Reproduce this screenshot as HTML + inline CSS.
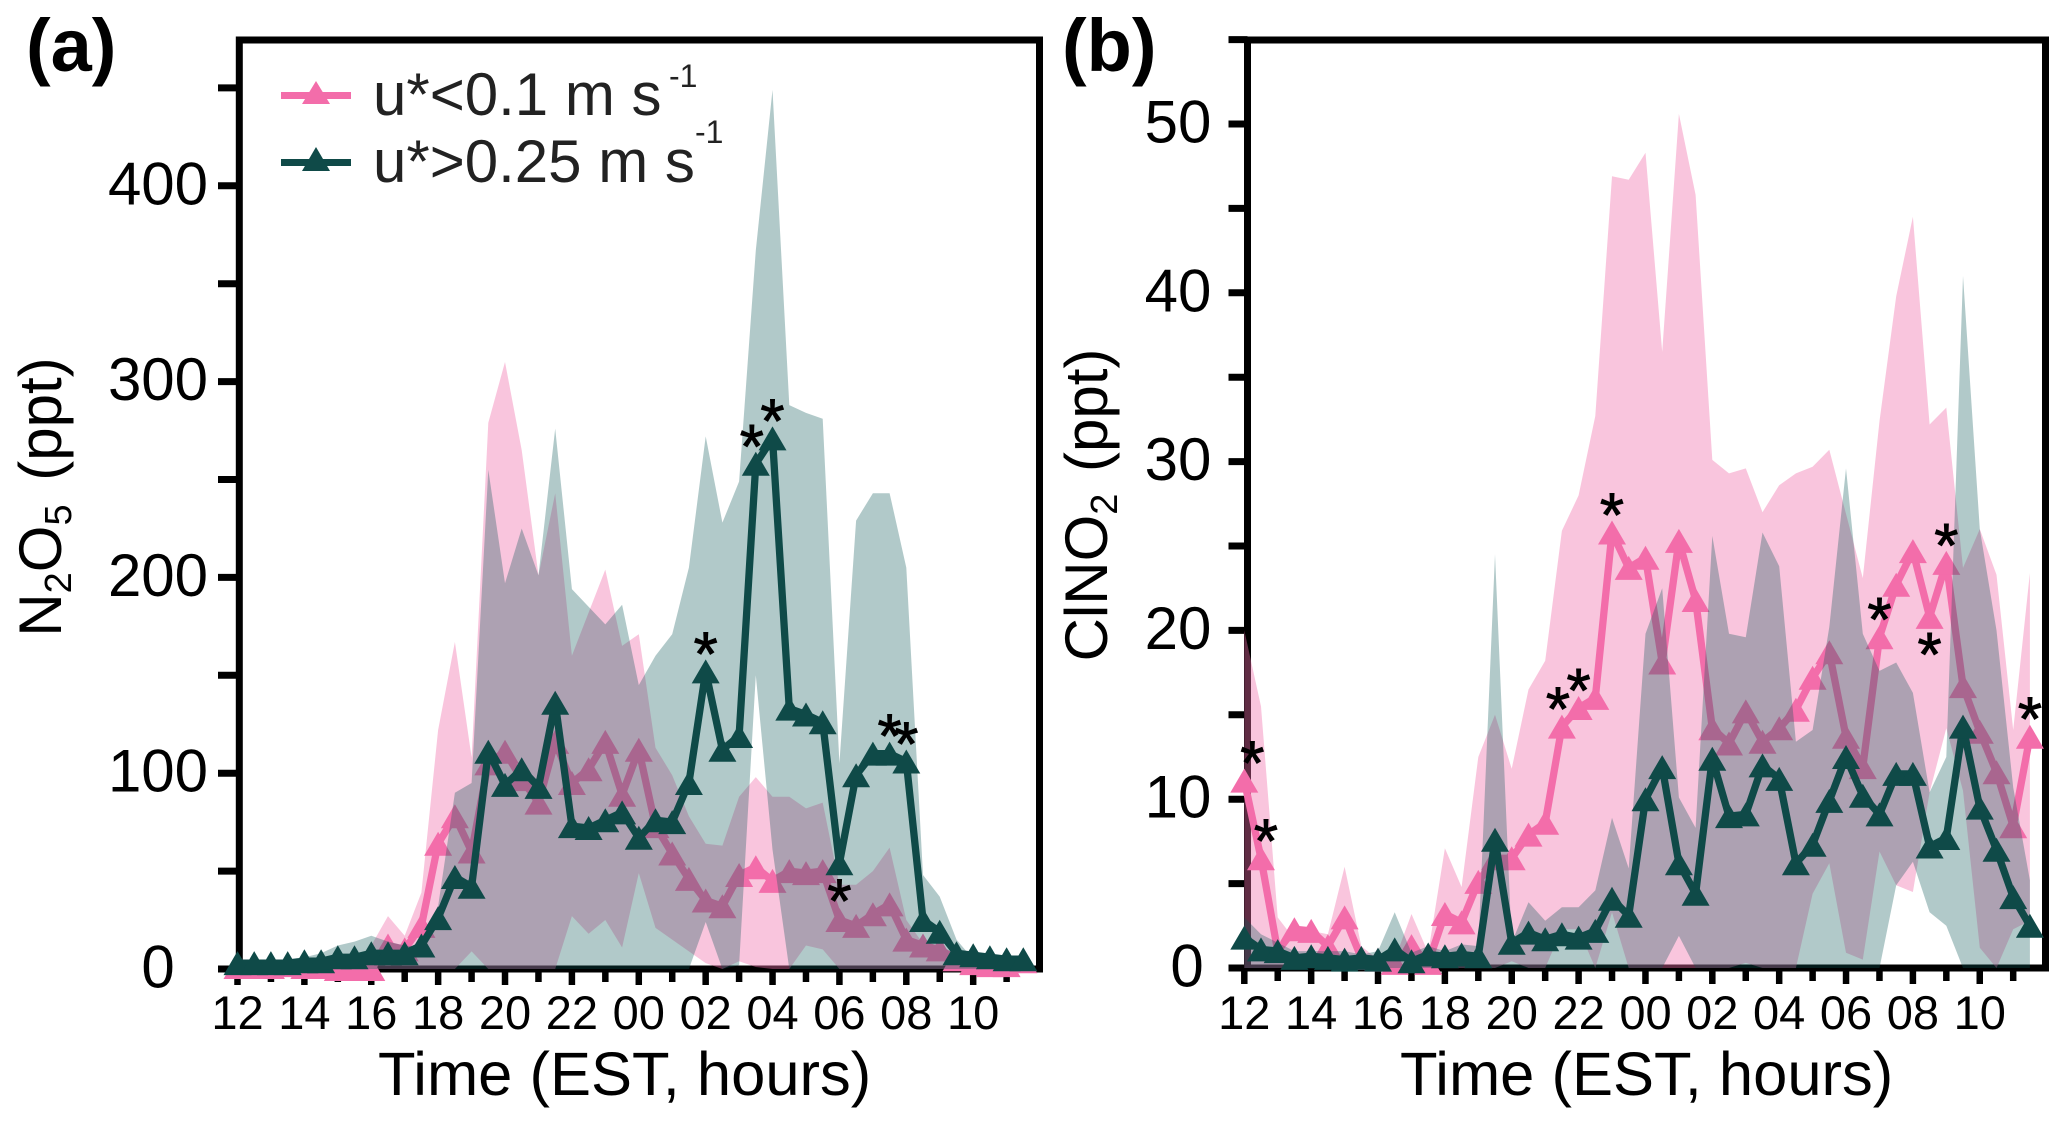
<!DOCTYPE html>
<html lang="en">
<head>
<meta charset="utf-8">
<title>N2O5 and ClNO2 diurnal profiles</title>
<style>
  html, body { margin: 0; padding: 0; background: #fff; }
  #figure { display: block; width: 2067px; height: 1125px; }
  text { font-family: "Liberation Sans", sans-serif; fill: #000; }
</style>
</head>
<body>
<svg id="figure" xmlns="http://www.w3.org/2000/svg" width="2067" height="1125" viewBox="0 0 2067 1125">
  <g id="panel-a"></g>
  <g id="panel-b"></g>

  <text x="26" y="71" font-size="74" font-weight="bold">(a)</text>
  <text x="1062" y="71" font-size="74" font-weight="bold">(b)</text>

  <text x="378" y="1095" font-size="61.5">Time (EST, hours)</text>
  <text x="1400" y="1095" font-size="61.5">Time (EST, hours)</text>

  <text transform="translate(61 497) rotate(-90)" text-anchor="middle" font-size="60">N<tspan font-size="38" dy="10">2</tspan><tspan dy="-10">O</tspan><tspan font-size="38" dy="10">5</tspan><tspan dy="-10" dx="7"> (ppt)</tspan></text>
  <text transform="translate(1107 505) rotate(-90)" text-anchor="middle" font-size="60">ClNO<tspan font-size="38" dy="10">2</tspan><tspan dy="-10" dx="5"> (ppt)</tspan></text>

  <g id="legend">
    <g>
      <rect x="281" y="92" width="70" height="7" fill="#f36daa"></rect>
      <polygon points="316,81 330,104 302,104" fill="#f36daa"></polygon>
      <text x="373" y="115" font-size="60" style="fill:#222">u*&lt;0.1 m s</text>
      <text x="669" y="87" font-size="32" style="fill:#222">-1</text>
    </g>
    <g>
      <rect x="281" y="159" width="70" height="7" fill="#0f4a48"></rect>
      <polygon points="316,147 330,171 302,171" fill="#0f4a48"></polygon>
      <text x="373" y="182" font-size="60" style="fill:#222">u*&gt;0.25 m s</text>
      <text x="695" y="143" font-size="32" style="fill:#222">-1</text>
    </g>
  </g>
</svg>

<script>
// ---------- Shared categories ----------
const hourTickLabels = ['12','14','16','18','20','22','00','02','04','06','08','10'];
const pointsPerHour = 2;
const hourTickCount = 24;

// ---------- Panel (a): N2O5 ----------
const aYTickLabels = [0, 100, 200, 300, 400];
const aYTicks = [0, 50, 100, 150, 200, 250, 300, 350, 400, 450];
const aLowMean = [1,1,1,2,1, 1,0,0,0,12, 10,22,64,78,60, 105,111,97,85,116, 95,102,116,89,112, 73,59,46,35,32, 48,52,45,50,49, 50,25,22,28,33, 15,12,10,5,3, 2,2,4];
const aLowUpper = [2,2,2,3,2, 2,1,1,12,27, 17,39,122,167,108, 279,310,265,201,243, 160,182,204,165,171, 113,99,78,64,63, 88,98,88,88,82, 85,43,43,50,62, 25,13,8,5,3, 3,3,5];
const aLowLower = [0,0,0,0,0, 0,0,0,0,0, 0,0,0,0,9, 0,0,0,0,0, 27,18,25,11,49, 21,15,9,3,0, 4,1,0,0,12, 10,0,0,0,0, 0,0,0,0,0, 0,0,0];
const aHighMean = [3,3,3,3,4, 4,6,6,8,8, 8,12,26,47,42, 111,94,102,93,136, 73,72,76,80,67, 76,75,95,152,112, 119,258,271,133,130, 126,54,99,110,110, 106,25,19,8,7, 6,5,5];
const aHighUpper = [2,3,4,5,6, 8,12,14,17,14, 12,11,32,90,95, 255,197,225,201,276, 194,185,176,186,145, 160,171,205,272,228, 249,367,449,288,284, 281,105,229,243,243, 205,48,37,15,5, 3,3,3];
const aHighLower = [0,0,0,0,0, 0,0,0,0,0, 0,0,0,0,0, 0,0,0,0,0, 0,0,0,0,0, 0,0,0,24,0, 2,150,61,0,0, 0,0,0,0,0, 0,0,0,0,0, 0,0,0];
const aHighSignificant = [28, 31, 32, 36, 39, 40];
const aHighBelow = [36];

// ---------- Panel (b): ClNO2 ----------
const bYTickLabels = [0, 10, 20, 30, 40, 50];
const bYTicks = [0, 5, 10, 15, 20, 25, 30, 35, 40, 45, 50, 55];
const bLowMean = [11.1,6.5,1,2.3,2.2, 1.3,3,0.6,0.5,0.3, 1.3,0.3,3.2,2.7,5.1, 6.5,6.5,7.9,8.6,14.3, 15.4,16,25.8,23.7,24.3, 18.1,25.3,21.8,14.2,13.3, 15.2,13.4,14.2,15.3,17.2, 18.7,13.7,11.9,19.6,22.7, 24.7,20.8,24,16.7,14, 11.6,8.4,13.7];
const bLowUpper = [20,15.5,3,1.7,2.2, 2,6,1.3,0.5,0.5, 3.2,0.9,7.1,4.8,12.5, 15,11.8,16.5,18.2,25.9, 28,32.7,46.9,46.7,48.3, 36.5,50.6,45.8,30.1,29.3, 29.6,27,28.6,29.3,29.7, 30.7,26.9,23.1,32.4,39.8, 44.5,32.2,33.2,23.7,26, 23.3,14.1,23.4];
const bLowLower = [0,0,0,0,0, 0,0,0,0,0, 0,0,0,0,0, 0,0.4,0,0,2.3, 2.3,0,3.3,0,0, 0,0,0,0,0, 0.3,0,0,0,4.4, 6.2,0.9,0.5,6.9,4.9, 4.5,10.4,14.2,10.5,1.2, 0,2.3,2.8];
const bHighMean = [1.8,1.1,1,0.6,0.7, 0.6,0.5,0.6,0.5,1.1, 0.4,0.8,0.7,0.8,0.7, 7.6,1.5,2.1,1.7,2, 1.8,2.2,4.1,3.1,10, 11.9,6.2,4.4,12.4,9, 9.1,12,11.2,6.2,7.3, 9.9,12.5,10.2,9.1,11.5, 11.5,7.2,7.7,14.3,9.5, 7,4.2,2.5];
const bHighUpper = [3,2,1.5,1,1, 1,1,0.8,1,3.3, 0.9,1.3,1,1.4,1.3, 24.5,1.5,3.9,2.8,3.6, 3.6,4.6,8.9,5.9,19.8, 22.5,10.1,8.3,25.6,19.8, 19.6,25.8,23.8,13.4,14.1, 20.2,29.6,19.8,17.6,18.1, 16.3,10.4,12.5,41,26, 20,10.7,5.2];
const bHighLower = [0,0,0,0,0, 0,0,0,0,0, 0,0,0,0,0, 0,0,0,0,0, 0,0,0,0,0, 0,1.9,0,0,0, 0,0,0,0,0, 0,0,0,0,4.9, 6.3,3.3,2.5,0,0, 0,0,0];
const bLowSignificant = [0, 1, 19, 20, 22, 38, 41, 42, 47];
const bLowBelow = [41];

const SVG_NS = 'http://www.w3.org/2000/svg';
const PINK = '#f36daa';
const DARK = '#0f4a48';

function make(tag, parent, attrs, text) {
  const el = document.createElementNS(SVG_NS, tag);
  for (const k in attrs) el.setAttribute(k, attrs[k]);
  if (text !== undefined) el.textContent = text;
  parent.appendChild(el);
  return el;
}

function drawBand(parent, name, upper, lower, fill, opacity, xOf, yOf) {
  const top = upper.map((v, i) => xOf(i).toFixed(1) + ',' + yOf(v).toFixed(1));
  const bottom = lower.map((v, i) => xOf(i).toFixed(1) + ',' + yOf(v).toFixed(1)).reverse();
  const el = make('polygon', parent, { points: top.concat(bottom).join(' '), fill: fill, 'fill-opacity': opacity });
  
  
}

function drawSeries(parent, name, values, color, xOf, yOf) {
  const pts = values.map((v, i) => xOf(i).toFixed(1) + ',' + yOf(v).toFixed(1)).join(' ');
  const line = make('polyline', parent, { points: pts, fill: 'none', stroke: color, 'stroke-width': 7.3, 'stroke-linejoin': 'miter', 'stroke-miterlimit': 3 });
  
  
  values.forEach((v, i) => {
    const x = xOf(i), y = yOf(v);
    const p = (x).toFixed(1) + ',' + (y - 12).toFixed(1) + ' ' + (x + 14).toFixed(1) + ',' + (y + 12).toFixed(1) + ' ' + (x - 14).toFixed(1) + ',' + (y + 12).toFixed(1);
    const m = make('polygon', parent, { points: p, fill: color });
    
    
  });
}

function drawStars(parent, name, indices, below, values, xOf, yOf, nudge) {
  indices.forEach((idx) => {
    const dy = below.includes(idx) ? 28 : -27;
    const star = make('text', parent, {
      x: (xOf(idx) + (nudge[idx] || 0)).toFixed(1),
      y: (yOf(values[idx]) + dy + 31).toFixed(1),
      'font-size': 62,
      'text-anchor': 'middle',
      stroke: '#000',
      'stroke-width': 0.9
    }, '*');
    
    
  });
}

function drawAxes(parent, key, cfg, xHour, yOf) {
  const frame = make('rect', parent, {
    x: cfg.left, y: cfg.top, width: cfg.right - cfg.left, height: cfg.bottom - cfg.top,
    fill: 'none', stroke: '#000', 'stroke-width': 7
  });
  
  

  cfg.yTicks.forEach((v) => {
    const t = make('line', parent, { x1: cfg.tickLeft, x2: cfg.left, y1: yOf(v), y2: yOf(v), stroke: '#000', 'stroke-width': 7 });
    
    
  });
  cfg.yLabels.forEach((v) => {
    const lx = String(v).length === 1 ? cfg.labelXSingle : cfg.labelX;
    const t = make('text', parent, { x: lx, y: yOf(v) + 18.5, 'font-size': 60, 'text-anchor': 'middle' }, String(v));
    
    
  });
  for (let h = 0; h < hourTickCount; h++) {
    const major = h % 2 === 0;
    const t = make('line', parent, { x1: xHour(h), x2: xHour(h), y1: cfg.bottom, y2: major ? cfg.bottom + 16 : cfg.bottom + 13, stroke: '#000', 'stroke-width': 6.5 });
    
    
  }
  hourTickLabels.forEach((lab, k) => {
    const t = make('text', parent, { x: xHour(k * 2), y: 1029, 'font-size': 47, 'text-anchor': 'middle' }, lab);
    
    
  });
}

function drawPanel(root, key, cfg, d) {
  const xHour = (h) => cfg.x0 + h * cfg.hourWidth;
  const xOf = (i) => xHour(i / pointsPerHour);
  const yOf = (v) => cfg.y0 - v * cfg.yScale;
  drawAxes(root, key, cfg, xHour, yOf);
  drawBand(root, key + '-band-low-ustar', d.lowUpper, d.lowLower, '#f06eaa', 0.4, xOf, yOf);
  drawSeries(root, key + '-series-low-ustar', d.lowMean, PINK, xOf, yOf);
  drawBand(root, key + '-band-high-ustar', d.highUpper, d.highLower, '#0d5656', 0.32, xOf, yOf);
  drawSeries(root, key + '-series-high-ustar', d.highMean, DARK, xOf, yOf);
  drawStars(root, key + '-significance-star', d.stars, d.below, d.starValues, xOf, yOf, cfg.nudge);
}

drawPanel(document.getElementById('panel-a'), 'panel-a', {
  x0: 237.5, hourWidth: 33.44, y0: 969, yScale: 1.958,
  left: 239.3, right: 1039.5, top: 40, bottom: 969,
  tickLeft: 218, labelX: 158, labelXSingle: 158,
  yTicks: aYTicks, yLabels: aYTickLabels, nudge: { 31: -4 }
}, {
  lowMean: aLowMean, lowUpper: aLowUpper, lowLower: aLowLower,
  highMean: aHighMean, highUpper: aHighUpper, highLower: aHighLower,
  stars: aHighSignificant, below: aHighBelow, starValues: aHighMean
});

drawPanel(document.getElementById('panel-b'), 'panel-b', {
  x0: 1244.3, hourWidth: 33.43, y0: 968, yScale: 16.88,
  left: 1247.5, right: 2045.5, top: 40, bottom: 968,
  tickLeft: 1228.5, labelX: 1178, labelXSingle: 1187,
  yTicks: bYTicks, yLabels: bYTickLabels, nudge: { 0: 8, 1: 5, 19: -4 }
}, {
  lowMean: bLowMean, lowUpper: bLowUpper, lowLower: bLowLower,
  highMean: bHighMean, highUpper: bHighUpper, highLower: bHighLower,
  stars: bLowSignificant, below: bLowBelow, starValues: bLowMean
});
</script>
</body>
</html>
